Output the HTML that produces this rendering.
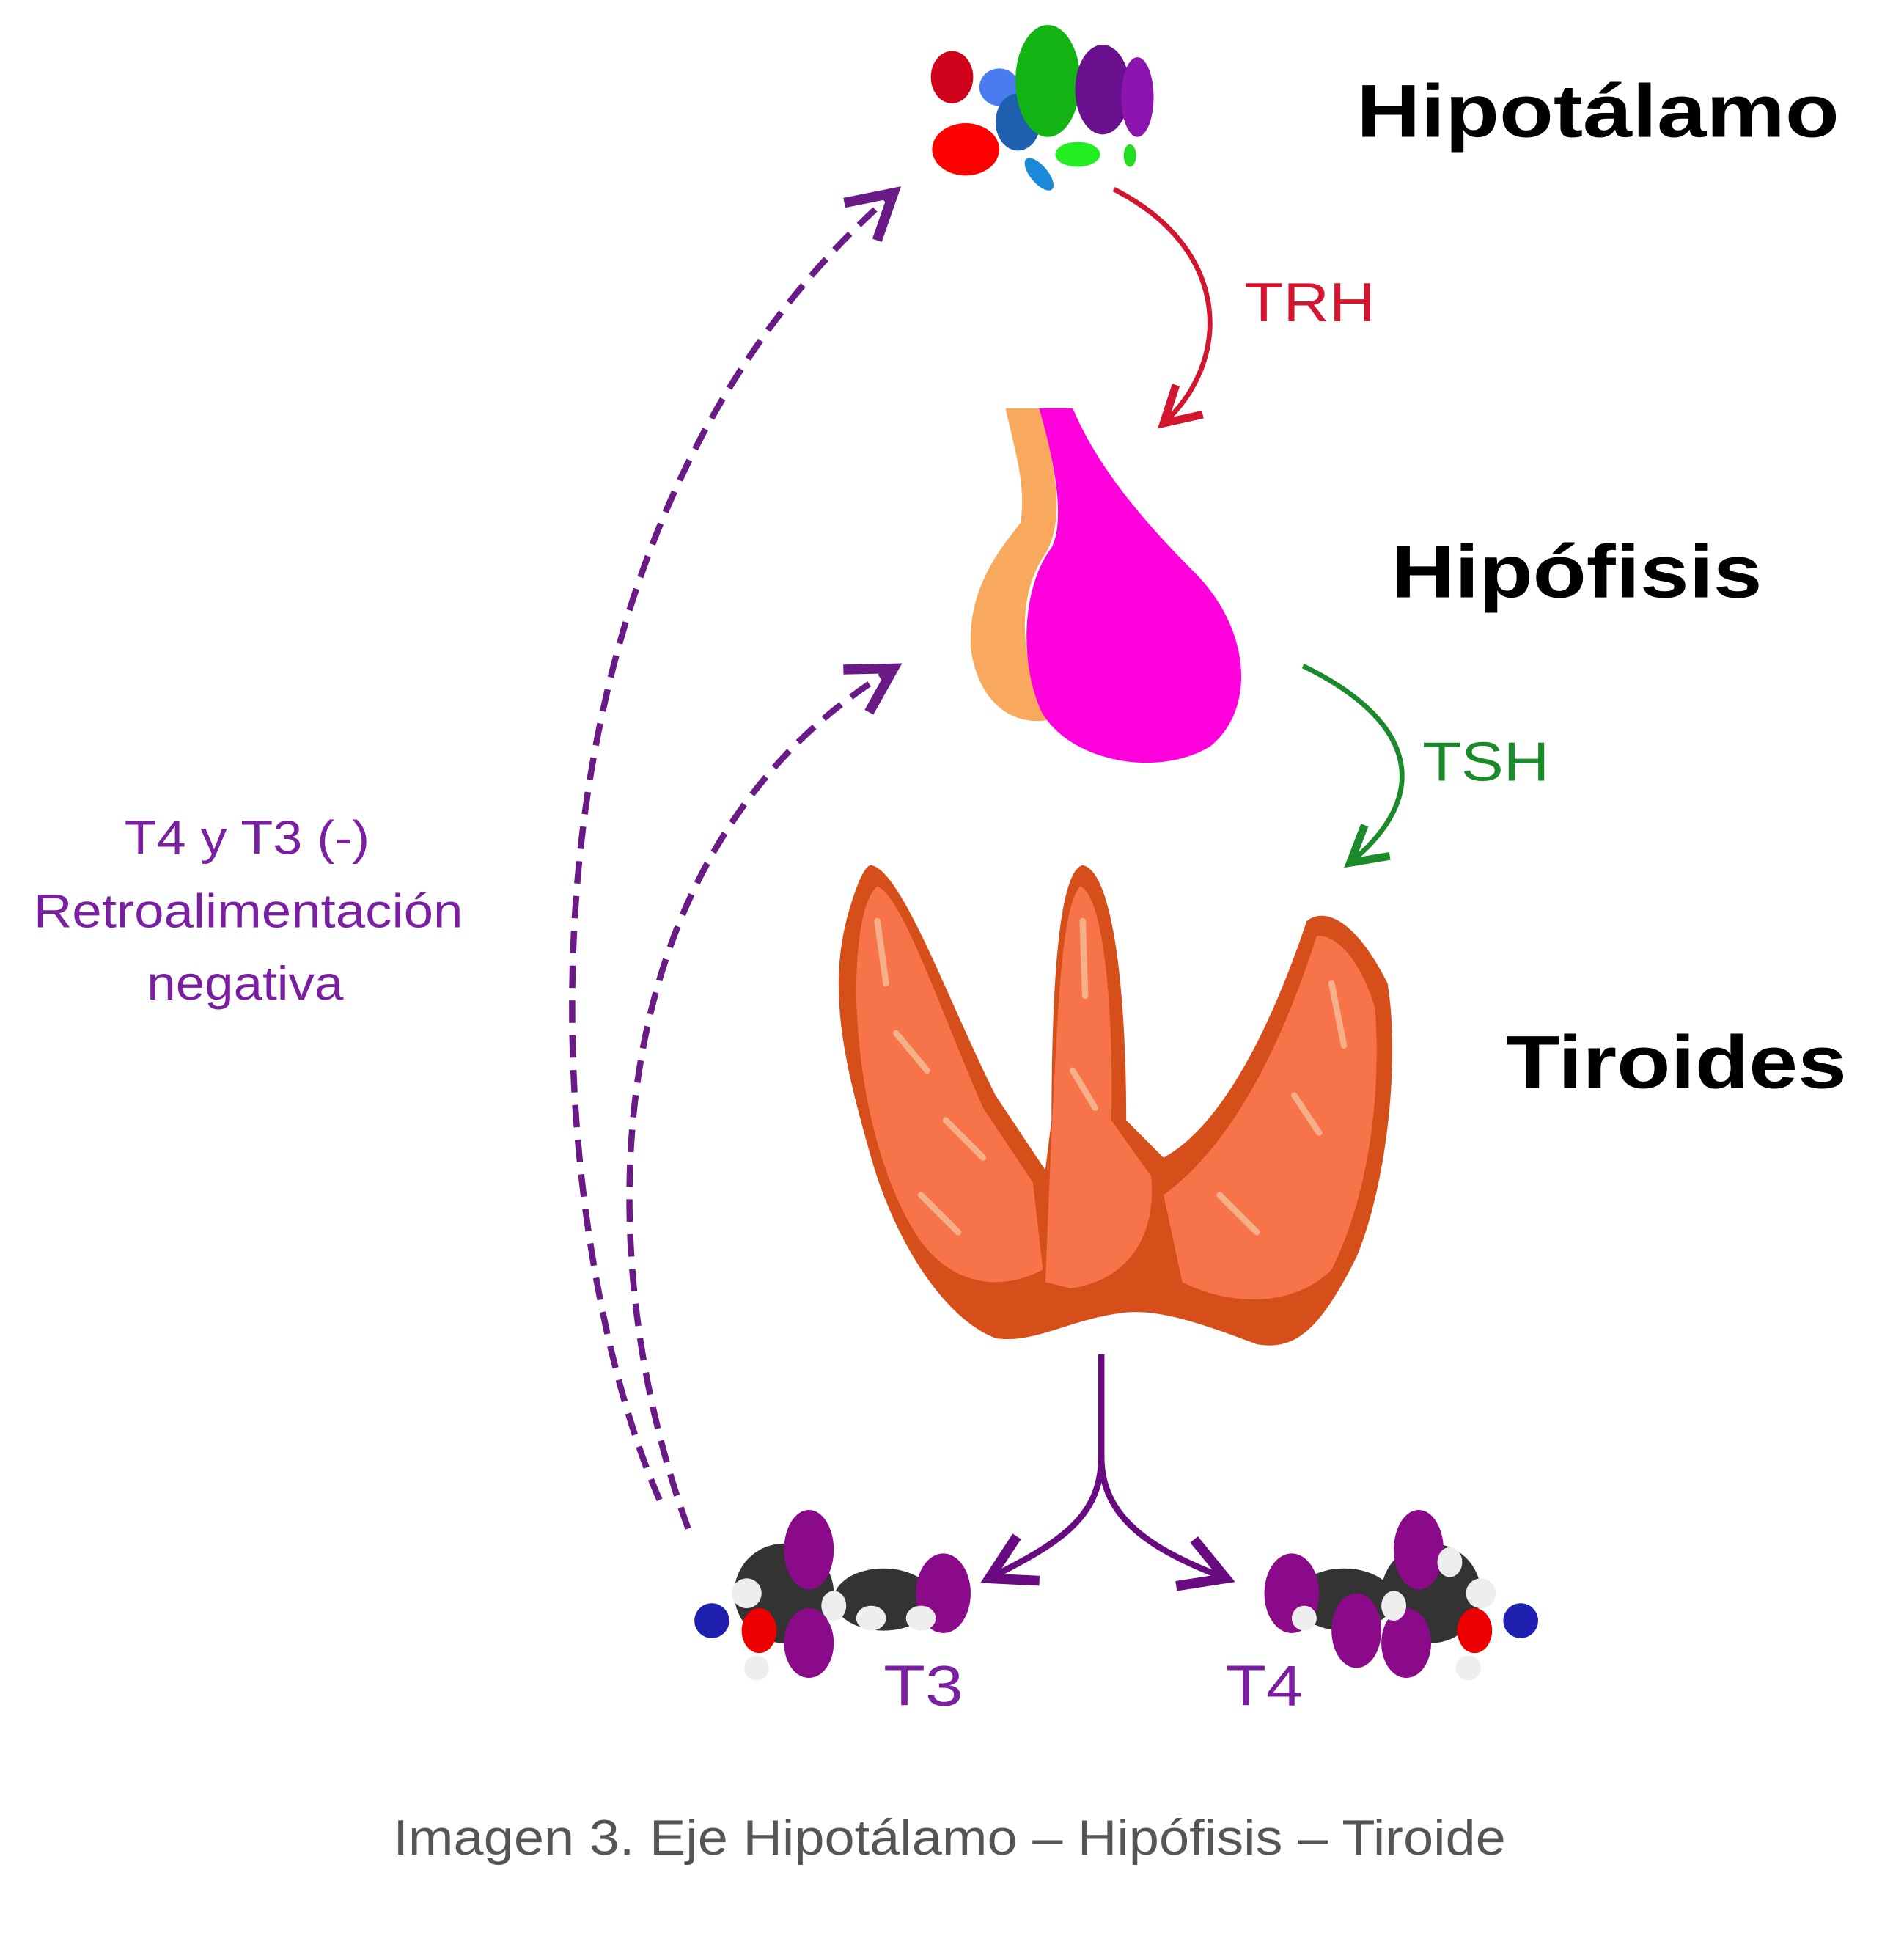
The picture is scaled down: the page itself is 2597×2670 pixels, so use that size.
<!DOCTYPE html>
<html><head><meta charset="utf-8"><style>html,body{margin:0;padding:0;background:#fff}svg{display:block}</style></head>
<body>
<svg width="2597" height="2670" viewBox="0 0 1530 1573" preserveAspectRatio="none" xmlns="http://www.w3.org/2000/svg" font-family="Liberation Sans, sans-serif">
<defs>
<marker id="ar" markerWidth="10" markerHeight="10" refX="8" refY="5" orient="auto" markerUnits="strokeWidth"><path d="M1,1 L8,5 L1,9" fill="none" stroke="context-stroke" stroke-width="1.6"/></marker>
</defs>
<!-- hypothalamus -->
<g>
<ellipse cx="765" cy="62" rx="17" ry="21" fill="#d0021b"/>
<ellipse cx="776" cy="120" rx="27" ry="21" fill="#ff0000"/>
<ellipse cx="803" cy="70" rx="16" ry="15" fill="#4a7cf0"/>
<ellipse cx="818" cy="98" rx="18" ry="23" fill="#1e5fb0"/>
<ellipse cx="842" cy="65" rx="26" ry="45" fill="#12b312"/>
<ellipse cx="835" cy="140" rx="7" ry="16" fill="#1a8ad8" transform="rotate(-40 835 140)"/>
<ellipse cx="866" cy="124" rx="18" ry="10" fill="#22ee22"/>
<ellipse cx="908" cy="125" rx="5" ry="9" fill="#22dd22"/>
<ellipse cx="886" cy="72" rx="22" ry="36" fill="#6a0f8e"/>
<ellipse cx="914" cy="78" rx="13" ry="32" fill="#8e14b0"/>
</g>
<!-- pituitary -->
<path d="M808,328 L835,328 C850,380 855,420 840,445 C815,480 820,540 845,578 C810,585 785,560 780,520 C778,470 805,440 820,420 C825,390 815,360 808,328 Z" fill="#f9a95d"/>
<path d="M835,328 L862,328 C880,370 910,410 960,460 C1005,505 1010,570 972,600 C930,625 860,612 837,572 C818,530 822,470 845,440 C855,420 850,380 835,328 Z" fill="#ff00dd"/>
<!-- thyroid -->
<path d="M700,695 C725,700 760,800 800,880 L840,940 L845,900 C845,800 850,700 870,695 C895,700 905,800 905,900 L935,930 C990,900 1030,800 1050,740 C1065,728 1090,740 1115,790 C1125,850 1115,950 1090,1010 C1060,1070 1040,1085 1010,1080 C970,1065 930,1050 900,1055 C860,1060 830,1080 800,1075 C760,1060 720,1000 700,930 C680,860 665,800 680,740 C688,710 695,695 700,695 Z" fill="#d64e1a"/>
<path d="M705,712 C725,720 755,810 790,890 L830,950 L838,1020 C800,1040 760,1030 735,990 C705,940 690,870 688,800 C688,750 695,720 705,712 Z" fill="#f7744a"/>
<path d="M868,712 C888,720 895,820 893,900 L925,945 C930,1000 900,1030 860,1035 L840,1030 L845,910 C850,820 852,730 868,712 Z" fill="#f7744a"/>
<path d="M1058,752 C1075,750 1095,775 1105,810 C1110,880 1100,960 1070,1020 C1040,1050 990,1050 950,1030 L935,960 C990,920 1030,840 1058,752 Z" fill="#f7744a"/>
<g stroke="#f5b08a" stroke-width="5" fill="none" stroke-linecap="round">
<path d="M705,740 L712,790"/><path d="M720,830 L745,860"/><path d="M760,900 L790,930"/><path d="M870,740 L872,800"/><path d="M862,860 L880,890"/><path d="M1070,790 L1080,840"/><path d="M1040,880 L1060,910"/><path d="M980,960 L1010,990"/><path d="M740,960 L770,990"/>
</g>
<!-- arrows -->
<path d="M895,152 C990,200 990,290 935,340" fill="none" stroke="#d3162f" stroke-width="4" marker-end="url(#ar)"/>
<path d="M1047,535 C1140,580 1150,640 1085,693" fill="none" stroke="#1a8a2a" stroke-width="4" marker-end="url(#ar)"/>
<path d="M530,1205 C440,1000 380,450 718,155" fill="none" stroke="#6a1a86" stroke-width="5" stroke-dasharray="18,10" marker-end="url(#ar)"/>
<path d="M553,1228 C470,1000 480,680 718,537" fill="none" stroke="#6a1a86" stroke-width="5" stroke-dasharray="18,10" marker-end="url(#ar)"/>
<path d="M885,1088 L885,1170 C885,1220 850,1240 795,1268" fill="none" stroke="#6a0a80" stroke-width="5" marker-end="url(#ar)"/>
<path d="M885,1170 C885,1220 925,1245 985,1268" fill="none" stroke="#6a0a80" stroke-width="5" marker-end="url(#ar)"/>
<!-- T3 molecule -->
<g>
<ellipse cx="630" cy="1280" rx="40" ry="40" fill="#333"/>
<ellipse cx="710" cy="1285" rx="40" ry="25" fill="#333"/>
<ellipse cx="650" cy="1245" rx="20" ry="32" fill="#8a0a8a"/>
<ellipse cx="758" cy="1280" rx="22" ry="32" fill="#8a0a8a"/>
<ellipse cx="650" cy="1320" rx="20" ry="28" fill="#8a0a8a"/>
<ellipse cx="572" cy="1302" rx="14" ry="14" fill="#2020b0"/>
<ellipse cx="610" cy="1310" rx="14" ry="18" fill="#ee0000"/>
<ellipse cx="600" cy="1280" rx="12" ry="12" fill="#eee"/>
<ellipse cx="700" cy="1300" rx="12" ry="10" fill="#eee"/>
<ellipse cx="740" cy="1300" rx="12" ry="10" fill="#eee"/>
<ellipse cx="670" cy="1290" rx="10" ry="12" fill="#eee"/>
<ellipse cx="608" cy="1340" rx="10" ry="10" fill="#eee"/>
</g>
<!-- T4 molecule -->
<g>
<ellipse cx="1150" cy="1280" rx="40" ry="40" fill="#333"/>
<ellipse cx="1080" cy="1285" rx="40" ry="25" fill="#333"/>
<ellipse cx="1140" cy="1245" rx="20" ry="32" fill="#8a0a8a"/>
<ellipse cx="1038" cy="1280" rx="22" ry="32" fill="#8a0a8a"/>
<ellipse cx="1090" cy="1310" rx="20" ry="30" fill="#8a0a8a"/>
<ellipse cx="1130" cy="1320" rx="20" ry="28" fill="#8a0a8a"/>
<ellipse cx="1222" cy="1302" rx="14" ry="14" fill="#2020b0"/>
<ellipse cx="1185" cy="1310" rx="14" ry="18" fill="#ee0000"/>
<ellipse cx="1190" cy="1280" rx="12" ry="12" fill="#eee"/>
<ellipse cx="1165" cy="1255" rx="10" ry="12" fill="#eee"/>
<ellipse cx="1120" cy="1290" rx="10" ry="12" fill="#eee"/>
<ellipse cx="1048" cy="1300" rx="10" ry="10" fill="#eee"/>
<ellipse cx="1180" cy="1340" rx="10" ry="10" fill="#eee"/>
</g>
<!-- text -->
<g font-weight="bold" font-size="60" fill="#000">
<text x="1090" y="110" textLength="388" lengthAdjust="spacingAndGlyphs">Hipotálamo</text>
<text x="1118" y="480" textLength="298" lengthAdjust="spacingAndGlyphs">Hipófisis</text>
<text x="1210" y="874" textLength="274" lengthAdjust="spacingAndGlyphs">Tiroides</text>
</g>
<text x="1000" y="258" font-size="44" fill="#d3162f" textLength="105" lengthAdjust="spacingAndGlyphs">TRH</text>
<text x="1143" y="627" font-size="44" fill="#1a8a2a" textLength="102" lengthAdjust="spacingAndGlyphs">TSH</text>
<g font-size="38" fill="#7b1fa2">
<text x="100" y="686" textLength="197" lengthAdjust="spacingAndGlyphs">T4 y T3  (-)</text>
<text x="27" y="745" textLength="345" lengthAdjust="spacingAndGlyphs">Retroalimentación</text>
<text x="118" y="803" textLength="158" lengthAdjust="spacingAndGlyphs">negativa</text>
</g>
<text x="710" y="1370" font-size="46" fill="#7b1fa2" textLength="64" lengthAdjust="spacingAndGlyphs">T3</text>
<text x="985" y="1370" font-size="46" fill="#7b1fa2" textLength="62" lengthAdjust="spacingAndGlyphs">T4</text>
<text x="316" y="1490" font-size="40" fill="#555" textLength="894" lengthAdjust="spacingAndGlyphs">Imagen 3. Eje Hipotálamo – Hipófisis – Tiroide</text>
</svg>
</body></html>
